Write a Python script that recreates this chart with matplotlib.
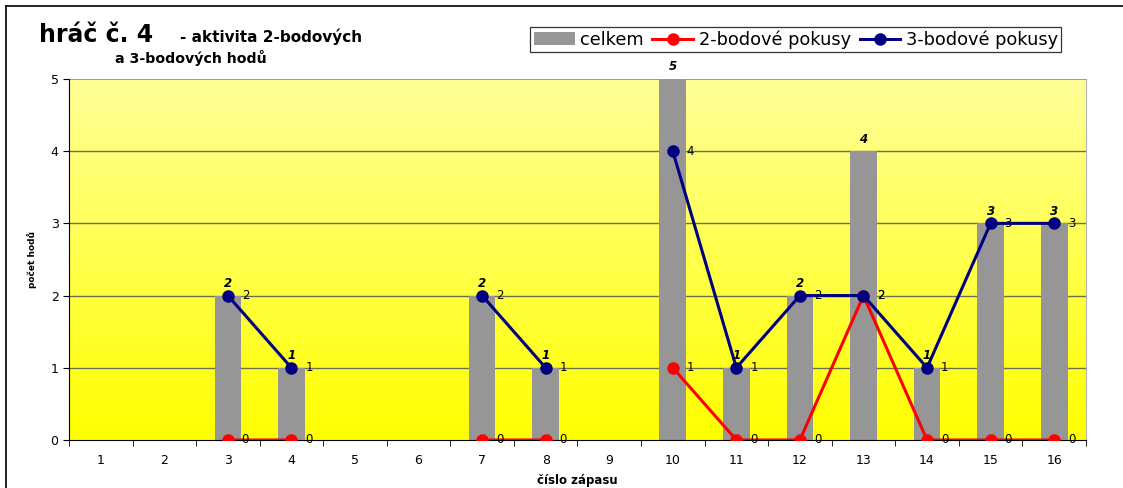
import numpy as np
import matplotlib
matplotlib.use("Agg")
import matplotlib.pyplot as plt
from matplotlib.colors import LinearSegmentedColormap

plt.rcParams['font.family'] = ['DejaVu Sans']

zapasy = list(range(1, 17))
nan = np.nan
celkem = [nan, nan, 2, 1, nan, nan, 2, 1, nan, 5, 1, 2, 4, 1, 3, 3]
dvoubodove = [nan, nan, 0, 0, nan, nan, 0, 0, nan, 1, 0, 0, 2, 0, 0, 0]
tribodove = [nan, nan, 2, 1, nan, nan, 2, 1, nan, 4, 1, 2, 2, 1, 3, 3]

fig = plt.figure(figsize=(11.23, 4.88), dpi=100)
ax = fig.add_axes([0.0614, 0.0984, 0.9056, 0.7398])

# frame around the chart (left/top visible in the original)
fig.add_artist(plt.Line2D([0.0053, 0.0053], [0.0, 0.988], color='black', lw=1.2))
fig.add_artist(plt.Line2D([0.0053, 1.0], [0.988, 0.988], color='black', lw=1.2))

x = np.arange(len(zapasy))

# yellow gradient background
cmap = LinearSegmentedColormap.from_list('yel', ['#ffff00', '#ffff99'])
grad = np.linspace(0, 1, 256).reshape(-1, 1)
ax.imshow(grad, cmap=cmap, origin='lower', aspect='auto',
          extent=[-0.5, len(zapasy) - 0.5, 0, 5], zorder=0)

for g in range(1, 5):
    ax.axhline(g, color='#6e6e50', lw=1.0, zorder=1)
ax.axhline(5, color='#8c8c8c', lw=1.2, zorder=1)

b = ax.bar(x, celkem, width=0.42, color='#969696', zorder=2, label='celkem')
l2, = ax.plot(x, dvoubodove, color='#ff0000', lw=2.2, marker='o', ms=8,
              zorder=3, label='2-bodové pokusy')
l3, = ax.plot(x, tribodove, color='#000080', lw=2.2, marker='o', ms=8,
              zorder=4, label='3-bodové pokusy')

for i, v in enumerate(celkem):
    if not np.isnan(v):
        ax.annotate(str(int(v)), (x[i], v), xytext=(0, 4), textcoords='offset points',
                    ha='center', va='bottom', fontsize=8.5, fontweight='bold',
                    fontstyle='italic', annotation_clip=False, zorder=6)

for serie in (dvoubodove, tribodove):
    for i, v in enumerate(serie):
        if not np.isnan(v):
            ax.annotate(str(int(v)), (x[i], v), xytext=(10, 0), textcoords='offset points',
                        ha='left', va='center', fontsize=8.5, annotation_clip=False,
                        zorder=6)

ax.set_xlim(-0.5, len(zapasy) - 0.5)
ax.set_ylim(0, 5)
ax.set_xticks(x)
ax.set_xticklabels([str(z) for z in zapasy], fontsize=9)
ax.set_xticks(np.arange(-0.5, len(zapasy), 1), minor=True)
ax.tick_params(axis='x', which='major', length=0, pad=10)
ax.tick_params(axis='x', which='minor', length=4, direction='out')
ax.set_yticks(range(0, 6))
ax.tick_params(axis='y', labelsize=9, length=4)

ax.spines['top'].set_visible(False)
ax.spines['right'].set_color('#b4b4b4')
ax.spines['right'].set_linewidth(0.8)
ax.spines['left'].set_color('black')
ax.spines['bottom'].set_color('black')

ax.set_ylabel('počet hodů', fontsize=6.5, fontweight='bold', labelpad=10)
ax.set_xlabel('číslo zápasu', fontsize=8.5, fontweight='bold', labelpad=5)

fig.text(0.035, 0.928, 'hráč č. 4', fontsize=17, fontweight='bold', va='center')
fig.text(0.160, 0.924, '- aktivita 2-bodových', fontsize=11, fontweight='bold', va='center')
fig.text(0.102, 0.882, 'a 3-bodových hodů', fontsize=10.2, fontweight='bold', va='center')

leg = fig.legend([b, l2, l3], ['celkem', '2-bodové pokusy', '3-bodové pokusy'],
                 loc='upper left', bbox_to_anchor=(0.472, 0.945), ncol=3, fontsize=12.8,
                 frameon=True, fancybox=False, edgecolor='black', borderpad=0.2,
                 handlelength=2.3, columnspacing=0.5, handletextpad=0.3,
                 borderaxespad=0)
leg.get_frame().set_linewidth(0.9)

fig.savefig('out.png', dpi=100)
